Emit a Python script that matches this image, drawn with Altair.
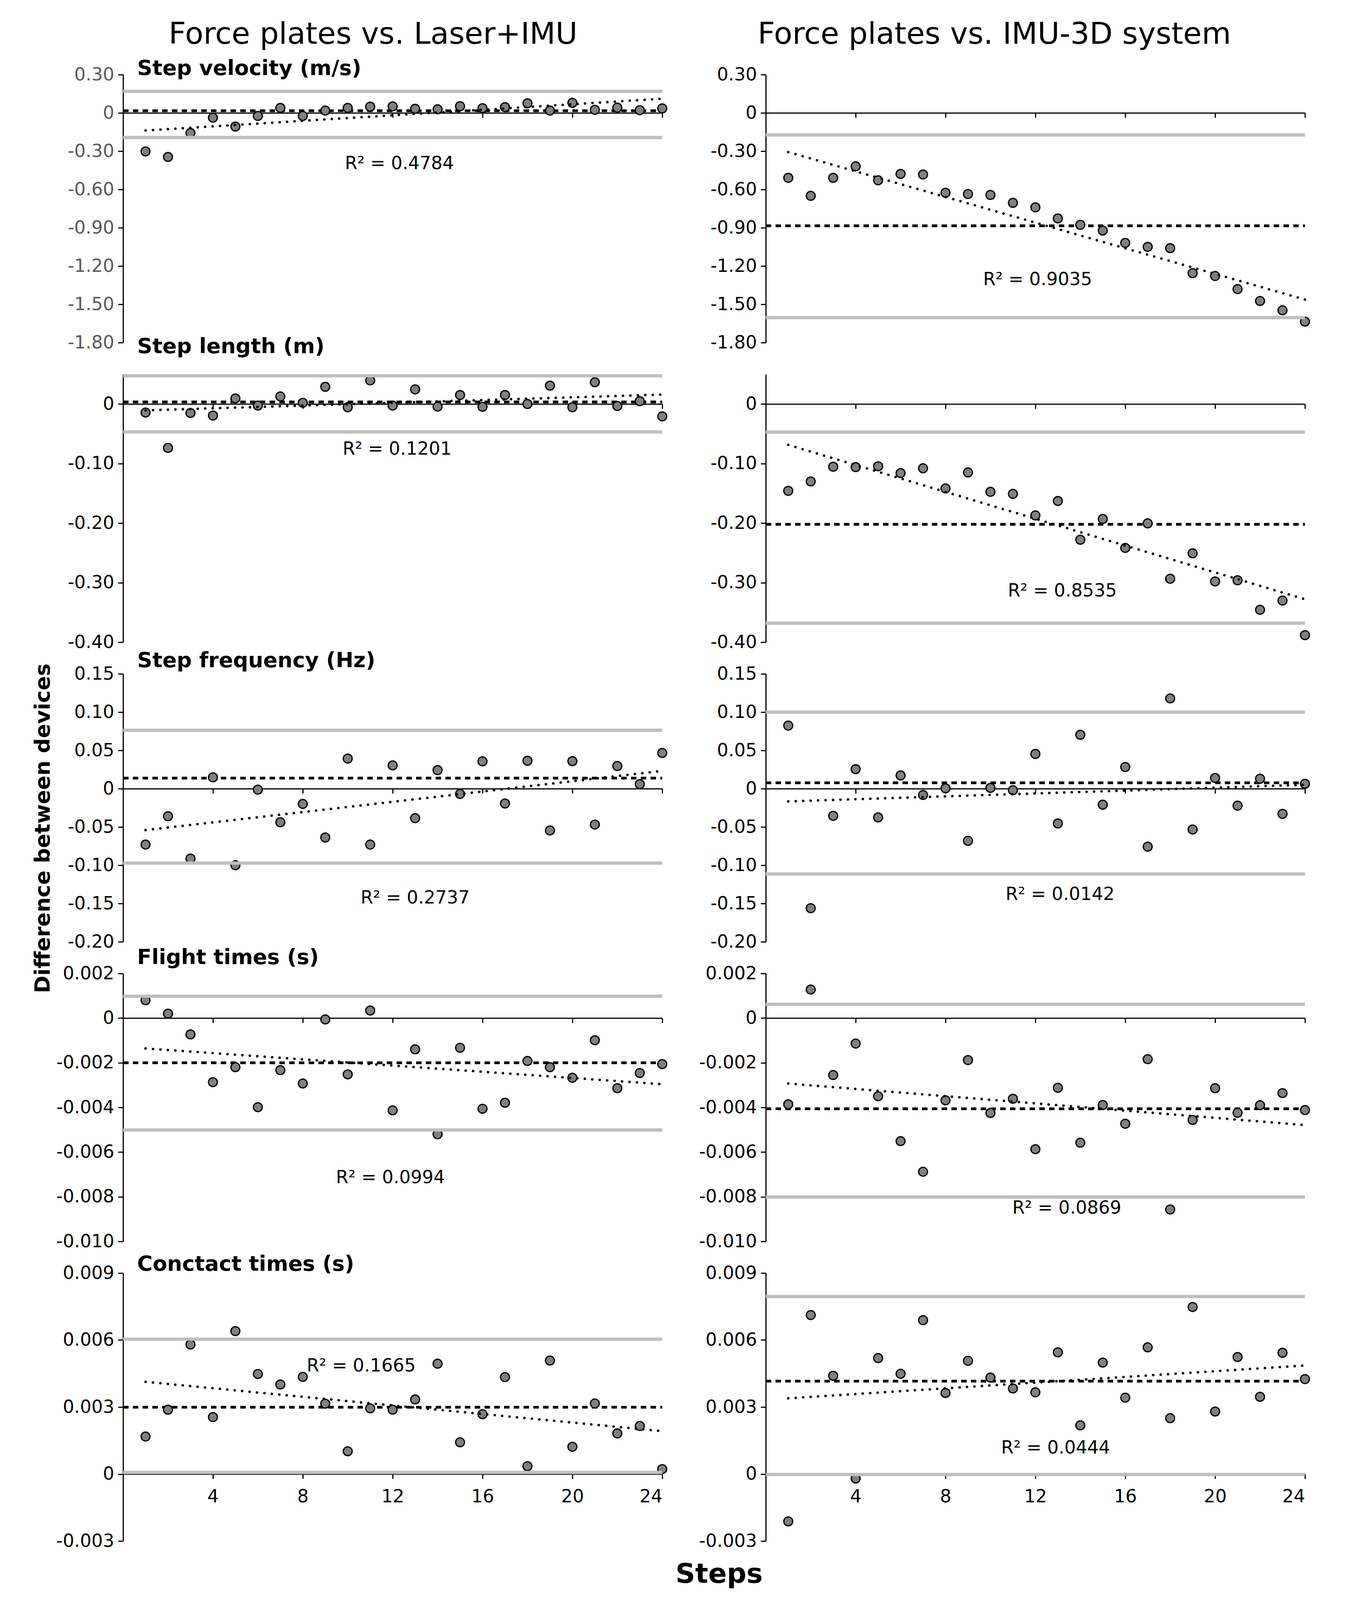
import altair as alt
import pandas as pd

FONT = "DejaVu Sans"

steps = list(range(1, 25))
x_ticks = [0, 4, 8, 12, 16, 20, 24]

col_headers = ["Force plates vs. Laser+IMU", "Force plates vs. IMU-3D system"]
row_titles = ["Step velocity (m/s)", "Step length (m)", "Step frequency (Hz)",
              "Flight times (s)", "Conctact times (s)"]

# y-axis domains and ticks per row
row_domains = [[-1.80, 0.30], [-0.40, 0.05], [-0.20, 0.15], [-0.010, 0.002], [-0.003, 0.009]]
row_ticks = [
    [-1.80, -1.50, -1.20, -0.90, -0.60, -0.30, 0.0, 0.30],
    [-0.40, -0.30, -0.20, -0.10, 0.0],
    [-0.20, -0.15, -0.10, -0.05, 0.0, 0.05, 0.10, 0.15],
    [-0.010, -0.008, -0.006, -0.004, -0.002, 0.0, 0.002],
    [-0.003, 0.0, 0.003, 0.006, 0.009],
]
row_formats = [".2f", ".2f", ".2f", ".3f", ".3f"]

# differences between devices (step 1..24)
vel_laser = [-0.302, -0.345, -0.158, -0.037, -0.107, -0.024, 0.039, -0.024, 0.018, 0.039, 0.049, 0.051,
             0.032, 0.028, 0.052, 0.037, 0.045, 0.075, 0.018, 0.079, 0.024, 0.041, 0.021, 0.035]
vel_imu3d = [-0.509, -0.650, -0.509, -0.419, -0.528, -0.478, -0.483, -0.626, -0.636, -0.643, -0.705, -0.740,
             -0.827, -0.877, -0.922, -1.019, -1.050, -1.060, -1.256, -1.278, -1.381, -1.474, -1.547, -1.636]
len_laser = [-0.0144, -0.0737, -0.0151, -0.0194, 0.0094, -0.0027, 0.0127, 0.0020, 0.0288, -0.0054, 0.0396, -0.0027,
             0.0245, -0.0044, 0.0151, -0.0047, 0.0151, 0.0000, 0.0308, -0.0054, 0.0365, -0.0034, 0.0047, -0.0208]
len_imu3d = [-0.1458, -0.1300, -0.1053, -0.1060, -0.1046, -0.1160, -0.1080, -0.1418, -0.1150, -0.1475, -0.1509, -0.1871,
             -0.1629, -0.2280, -0.1931, -0.2417, -0.2005, -0.2934, -0.2508, -0.2980, -0.2960, -0.3456, -0.3302, -0.3882]
freq_laser = [-0.0730, -0.0360, -0.0913, 0.0148, -0.1000, -0.0013, -0.0439, -0.0199, -0.0638, 0.0393, -0.0730, 0.0304,
              -0.0385, 0.0242, -0.0069, 0.0357, -0.0194, 0.0365, -0.0546, 0.0360, -0.0469, 0.0296, 0.0059, 0.0467]
freq_imu3d = [0.0824, -0.1561, -0.0355, 0.0255, -0.0375, 0.0173, -0.0082, 0.0005, -0.0681, 0.0010, -0.0020, 0.0454,
              -0.0454, 0.0704, -0.0209, 0.0283, -0.0758, 0.1179, -0.0533, 0.0140, -0.0222, 0.0130, -0.0329, 0.0064]
flight_laser = [0.00080, 0.00020, -0.00073, -0.00287, -0.00220, -0.00399, -0.00233, -0.00293, -0.00006, -0.00252,
                0.00034, -0.00413, -0.00140, -0.00520, -0.00133, -0.00406, -0.00379, -0.00192, -0.00220, -0.00267,
                -0.00099, -0.00314, -0.00246, -0.00206]
flight_imu3d = [-0.00386, 0.00128, -0.00255, -0.00114, -0.00350, -0.00551, -0.00688, -0.00368, -0.00188, -0.00425,
                -0.00361, -0.00587, -0.00312, -0.00558, -0.00389, -0.00473, -0.00184, -0.00857, -0.00456, -0.00314,
                -0.00424, -0.00390, -0.00336, -0.00412]
contact_laser = [0.00168, 0.00288, 0.00580, 0.00255, 0.00640, 0.00448, 0.00401, 0.00435, 0.00315, 0.00102,
                 0.00294, 0.00288, 0.00334, 0.00494, 0.00142, 0.00268, 0.00434, 0.00035, 0.00508, 0.00122,
                 0.00316, 0.00182, 0.00215, 0.00022]
contact_imu3d = [-0.00212, 0.00712, 0.00440, -0.00020, 0.00519, 0.00449, 0.00689, 0.00363, 0.00507, 0.00432,
                 0.00383, 0.00366, 0.00545, 0.00218, 0.00499, 0.00342, 0.00567, 0.00250, 0.00748, 0.00280,
                 0.00524, 0.00346, 0.00543, 0.00425]

series = [vel_laser, vel_imu3d, len_laser, len_imu3d, freq_laser, freq_imu3d,
          flight_laser, flight_imu3d, contact_laser, contact_imu3d]

# mean bias, limits of agreement, trend line ends (step 1 and step 24), R^2
mean_bias = [0.017, -0.885, 0.0034, -0.2021, 0.0138, 0.0077, -0.0020, -0.00406, 0.00299, 0.00416]
loa_upper = [0.169, -0.173, 0.0473, -0.0473, 0.0763, 0.1000, 0.00098, 0.00062, 0.00604, 0.00795]
loa_lower = [-0.193, -1.604, -0.0469, -0.3681, -0.0972, -0.1115, -0.00501, -0.00801, 0.00007, -0.00002]
trend_start = [-0.138, -0.307, -0.0107, -0.0687, -0.0541, -0.0166, -0.00136, -0.00293, 0.00413, 0.00339]
trend_end = [0.111, -1.463, 0.0158, -0.3279, 0.0232, 0.0051, -0.00296, -0.00479, 0.00192, 0.00486]
r2_values = ["0.4784", "0.9035", "0.1201", "0.8535", "0.2737", "0.0142", "0.0994", "0.0869", "0.1665", "0.0444"]
r2_step = [12.3, 12.1, 12.2, 13.2, 13.0, 13.1, 11.9, 13.4, 10.6, 12.9]
r2_diff = [-0.398, -1.308, -0.0758, -0.3138, -0.1429, -0.1383, -0.00715, -0.00851, 0.00484, 0.00116]

W, H = 1380, 686
ROW_GAP, COL_GAP = 81, 265
title_dy = [1, -54, -17, -24, -6]
header_dx = [-50, -105]


def make_panel(row, col):
    i = row * 2 + col
    ymin, ymax = row_domains[row]
    xs = alt.Scale(domain=[0, 24], nice=False, zero=False)
    ys = alt.Scale(domain=[ymin, ymax], nice=False, zero=False)
    off = -H * (0 - ymin) / (ymax - ymin)
    bottom = row == 4

    xax = dict(values=x_ticks, offset=off, labels=bottom, domainColor="black", domainWidth=3,
               tickColor="black", tickWidth=3, tickSize=12, labelFontSize=46, labelColor="black",
               labelPadding=24, labelFont=FONT, grid=False, title=None,
               labelExpr="datum.value == 0 ? '' : datum.label")
    if bottom and col == 0:
        xax.update(title="Steps", titleX=1525, titleY=278, titleAlign="center",
                   titleBaseline="alphabetic", titleFontSize=70, titleFontWeight="bold",
                   titleFont=FONT, titleColor="black", titleAngle=0)
    fmt = row_formats[row]
    yax = dict(values=row_ticks[row], domainColor="black", domainWidth=3, tickColor="black",
               tickWidth=3, tickSize=13, labelFontSize=46,
               labelColor="#595959" if i == 0 else "black", labelPadding=10, labelFont=FONT,
               grid=False, title=None,
               labelExpr="datum.value == 0 ? '0' : replace(format(datum.value, '%s'), '\u2212', '-')" % fmt)
    if row == 2 and col == 0:
        yax.update(title="Difference between devices", titleX=-205, titleY=395, titleAngle=270,
                   titleAlign="center", titleBaseline="middle", titleFontSize=54,
                   titleFontWeight="bold", titleFont=FONT, titleColor="black")

    X = alt.X("x:Q", scale=xs, axis=alt.Axis(**xax))
    Y = alt.Y("y:Q", scale=ys, axis=alt.Axis(**yax))

    mean = alt.Chart(pd.DataFrame({"x": [0], "x2": [24], "y": [mean_bias[i]]})).mark_rule(
        color="black", strokeWidth=7, strokeDash=[14, 11]).encode(x=X, x2="x2:Q", y=Y)
    pts = alt.Chart(pd.DataFrame({"x": steps, "y": series[i]})).mark_circle(
        fill="#808080", stroke="black", strokeWidth=3.2, size=520, opacity=1, fillOpacity=1
    ).encode(x=X, y=Y)
    loa = alt.Chart(pd.DataFrame({"x": [0, 0], "x2": [24, 24], "y": [loa_upper[i], loa_lower[i]]})).mark_rule(
        color="#BFBFBF", strokeWidth=8.5).encode(x=X, x2="x2:Q", y=Y)
    trend = alt.Chart(pd.DataFrame({"x": [1, 24], "y": [trend_start[i], trend_end[i]]})).mark_line(
        color="black", strokeWidth=6.5, strokeDash=[0.1, 19], strokeCap="round").encode(x=X, y=Y)
    r2 = alt.Chart(pd.DataFrame({"x": [r2_step[i]], "y": [r2_diff[i]],
                                 "label": ["R\u00b2 = " + r2_values[i]]})).mark_text(
        font=FONT, fontSize=46, color="black", align="center", baseline="middle").encode(
        x=X, y=Y, text="label:N")
    layers = [mean, pts, loa, trend, r2]
    if col == 0:
        layers.append(alt.Chart(pd.DataFrame({"x": [0], "y": [ymax], "label": [row_titles[row]]})).mark_text(
            font=FONT, fontSize=54, fontWeight="bold", color="black", align="left",
            baseline="alphabetic", dx=36, dy=title_dy[row]).encode(x=X, y=Y, text="label:N"))
    if row == 0:
        layers.append(alt.Chart(pd.DataFrame({"x": [12], "y": [ymax], "label": [col_headers[col]]})).mark_text(
            font=FONT, fontSize=77, color="black", align="center",
            baseline="alphabetic", dx=header_dx[col], dy=-79).encode(x=X, y=Y, text="label:N"))
    return alt.layer(*layers).properties(width=W, height=H)


cells = [make_panel(r, c) for r in range(5) for c in range(2)]

chart = alt.concat(*cells, columns=2, spacing={"row": ROW_GAP, "column": COL_GAP}, bounds="flush").properties(
    padding={"left": 74, "top": 42, "right": 10, "bottom": 10}
).configure_view(stroke=None).configure_axis(labelFont=FONT, titleFont=FONT)

chart.save("out.html", embed_options={"renderer": "svg", "actions": False})
